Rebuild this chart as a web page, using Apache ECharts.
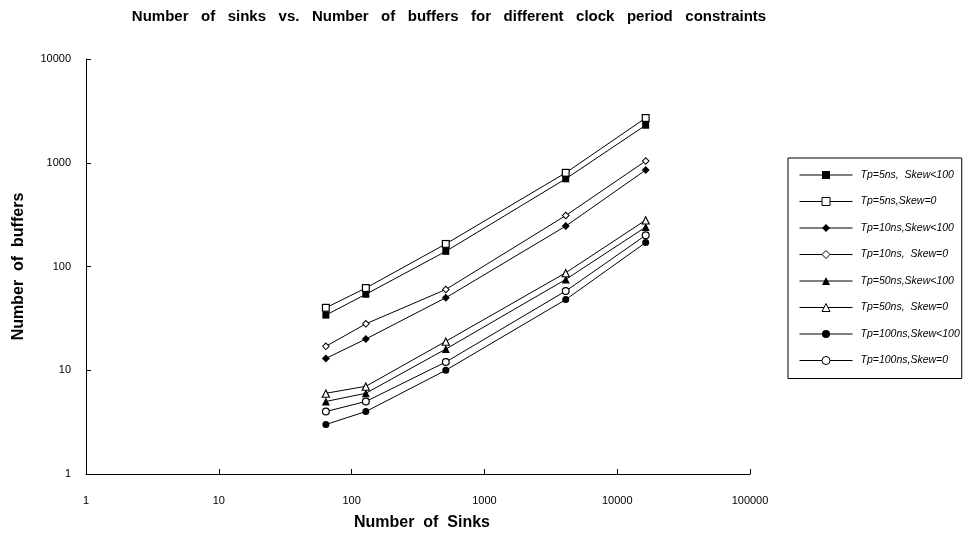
<!DOCTYPE html>
<html>
<head>
<meta charset="utf-8">
<script src="https://cdn.jsdelivr.net/npm/echarts@6/dist/echarts.min.js"></script>
<style>
  html, body { margin: 0; padding: 0; background: #fff; }
  #chart { width: 966px; height: 536px; }
</style>
</head>
<body>
<div id="chart"></div>
<script>
// number of sinks on the x axis
const sinks = [64, 128, 512, 4096, 16384];

// buffers for each clock period / skew setting
const tp5Skew100 = [34, 54, 140, 700, 2300];
const tp5Skew0 = [40, 62, 165, 800, 2700];
const tp10Skew100 = [13, 20, 50, 245, 850];
const tp10Skew0 = [17, 28, 60, 310, 1040];
const tp50Skew100 = [5, 6, 16, 75, 240];
const tp50Skew0 = [6, 7, 19, 87, 280];
const tp100Skew100 = [3, 4, 10, 48, 170];
const tp100Skew0 = [4, 5, 12, 58, 200];

const seriesNames = [
  'Tp=5ns,  Skew<100', 'Tp=5ns,Skew=0', 'Tp=10ns,Skew<100', 'Tp=10ns,  Skew=0',
  'Tp=50ns,Skew<100', 'Tp=50ns,  Skew=0', 'Tp=100ns,Skew<100', 'Tp=100ns,Skew=0'
];
const seriesValues = [tp5Skew100, tp5Skew0, tp10Skew100, tp10Skew0,
  tp50Skew100, tp50Skew0, tp100Skew100, tp100Skew0];
const symbols = ['rect', 'rect', 'diamond', 'diamond',
  'triangle', 'triangle', 'circle', 'circle'];
const symbolSizes = [7, 8, 8, 8, 8, 9, 7, 8];
// white inner mark that makes the odd series hollow
const innerSizes = [0, 5.6, 0, 5.2, 0, 5.4, 0, 5.6];
const innerOffsets = [0, 0, 0, 0, 0, 0.7, 0, 0];

const font = "'Liberation Sans', Arial, sans-serif";

const series = [];
seriesNames.forEach((name, i) => {
  const data = sinks.map((s, j) => [s, seriesValues[i][j]]);
  series.push({
    name: name,
    type: 'line',
    data: data,
    symbol: symbols[i],
    symbolSize: symbolSizes[i],
    showAllSymbol: true,
    lineStyle: { color: '#000', width: 1 },
    itemStyle: { color: '#000' },
    emphasis: { disabled: true },
    z: 2,
    animation: false
  });
  if (i % 2 === 1) {
    series.push({
      name: name + ' fill',
      type: 'scatter',
      data: data,
      symbol: symbols[i],
      symbolSize: innerSizes[i],
      symbolOffset: [0, innerOffsets[i]],
      itemStyle: { color: '#fff', opacity: 1 },
      silent: true,
      emphasis: { disabled: true },
      z: 3,
      animation: false
    });
  }
});

const legendData = seriesNames.map((name, i) => (i % 2 === 1
  ? { name: name, itemStyle: { color: '#fff', borderColor: '#000', borderWidth: 1 } }
  : { name: name }));

const option = {
  backgroundColor: '#fff',
  title: {
    text: 'Number   of   sinks   vs.   Number   of   buffers   for   different   clock   period   constraints',
    left: 444,
    textAlign: 'center',
    top: 4,
    textStyle: { fontFamily: font, fontSize: 15, fontWeight: 'bold', color: '#000' }
  },
  legend: {
    orient: 'vertical',
    left: 788,
    top: 158,
    padding: [11, 2, 12, 11],
    itemGap: 14.5,
    itemWidth: 53,
    itemHeight: 10,
    borderColor: '#000',
    borderWidth: 1,
    lineStyle: { width: 1 },
    data: legendData,
    textStyle: {
      fontFamily: font, fontSize: 10.5, fontStyle: 'italic', color: '#000',
      lineHeight: 12, padding: [0, 0, 0, 3]
    }
  },
  grid: { left: 86, right: 216, top: 59, bottom: 58, containLabel: false },
  xAxis: {
    type: 'log',
    logBase: 10,
    min: 1,
    max: 100000,
    name: 'Number  of  Sinks',
    nameLocation: 'middle',
    nameGap: 41,
    nameTextStyle: { fontFamily: font, fontSize: 16, fontWeight: 'bold', color: '#000', padding: [0, 0, 0, 8] },
    axisLine: { lineStyle: { color: '#000', width: 1 } },
    axisTick: { inside: true, length: 5, lineStyle: { color: '#000' } },
    minorTick: { show: false },
    axisLabel: { margin: 21, fontFamily: font, fontSize: 11, color: '#000', formatter: v => String(v) },
    splitLine: { show: false }
  },
  yAxis: {
    type: 'log',
    logBase: 10,
    min: 1,
    max: 10000,
    name: 'Number  of  buffers',
    nameLocation: 'middle',
    nameGap: 59,
    nameTextStyle: { fontFamily: font, fontSize: 16, fontWeight: 'bold', color: '#000' },
    axisLine: { show: true, lineStyle: { color: '#000', width: 1 } },
    axisTick: { show: true, inside: true, length: 5, lineStyle: { color: '#000' } },
    axisLabel: { margin: 15, fontFamily: font, fontSize: 11, color: '#000', formatter: v => String(v) },
    splitLine: { show: false }
  },
  series: series
};

const myChart = echarts.init(document.getElementById('chart'));
myChart.setOption(option);
</script>
</body>
</html>
